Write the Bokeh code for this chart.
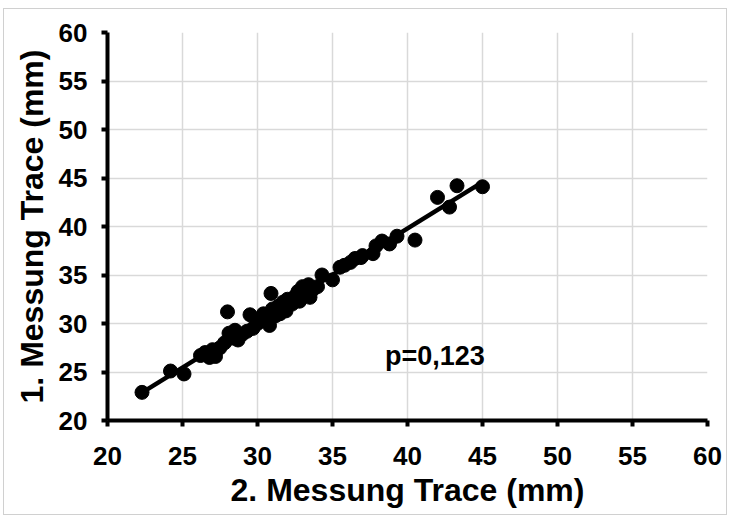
import numpy as np
from bokeh.plotting import figure
from bokeh.models import ColumnDataSource
from bokeh.core.properties import value
from bokeh.embed import file_html
from bokeh.resources import INLINE

# Paired measurements (mm): second measurement (x) vs first measurement (y)
messung_2 = [22.3, 24.2, 25.1, 26.2, 26.5, 26.8, 27.0, 27.2, 27.5, 27.8,
             28.0, 28.1, 28.3, 28.5, 28.7, 29.0, 29.3, 29.5, 29.7, 30.0,
             30.2, 30.4, 30.6, 30.8, 30.9, 31.0, 31.2, 31.4, 31.5, 31.7,
             31.9, 32.0, 32.3, 32.5, 32.7, 32.8, 33.0, 33.2, 33.4, 33.5,
             33.7, 34.0, 34.3, 35.0, 35.5, 35.8, 36.2, 36.5, 36.9, 37.0,
             37.7, 37.9, 38.3, 38.8, 39.3, 40.5, 42.0, 42.8, 43.3, 45.0]
messung_1 = [22.9, 25.1, 24.8, 26.7, 27.0, 26.5, 27.3, 26.6, 27.5, 28.0,
             31.2, 29.0, 28.5, 29.3, 28.3, 28.9, 29.2, 30.9, 29.5, 30.0,
             30.5, 31.0, 30.3, 29.8, 33.1, 31.5, 30.8, 31.8, 31.0, 32.2,
             31.3, 32.5, 32.0, 32.8, 33.3, 32.3, 33.8, 33.0, 34.0, 32.7,
             33.5, 33.8, 35.0, 34.5, 35.8, 36.0, 36.3, 36.7, 36.8, 37.0,
             37.2, 38.0, 38.5, 38.2, 39.0, 38.6, 43.0, 42.0, 44.2, 44.1]
axis_ticks = [20, 25, 30, 35, 40, 45, 50, 55, 60]
p_label = "p=0,123"

FONT = "Liberation Sans"

p = figure(width=724, height=507, x_range=(20, 60), y_range=(20, 60),
           output_backend="svg", toolbar_location=None,
           min_border_left=103, min_border_right=21,
           min_border_top=23, min_border_bottom=96)
p.styles = {"margin-left": "3px", "margin-top": "8px",
            "border": "1px solid #d0d0d0"}
p.outline_line_color = None
p.background_fill_color = "white"

# grid
for g in (p.xgrid, p.ygrid):
    g.ticker = axis_ticks
    g.grid_line_color = "#d9d9d9"
    g.grid_line_width = 1.5

# axes
for ax in (p.xaxis, p.yaxis):
    ax.ticker = axis_ticks
    ax.axis_line_width = 4
    ax.axis_line_color = "#000000"
    ax.major_tick_line_width = 4
    ax.major_tick_line_color = "#000000"
    ax.major_tick_out = 6
    ax.major_tick_in = 0
    ax.minor_tick_line_color = None
    ax.major_label_text_font = FONT
    ax.major_label_text_font_style = "bold"
    ax.major_label_text_font_size = "26px"
    ax.major_label_text_color = "black"
    ax.axis_label_text_font = FONT
    ax.axis_label_text_font_style = "bold"
    ax.axis_label_text_font_size = "32px"
    ax.axis_label_text_color = "black"

p.xaxis.axis_label = "2. Messung Trace (mm)"
p.yaxis.axis_label = "1. Messung Trace (mm)"
p.xaxis.major_label_standoff = 20
p.xaxis.axis_label_standoff = 4
p.yaxis.major_label_standoff = 14
p.yaxis.axis_label_standoff = 6

# linear trend line fitted to the data
xs = np.array(messung_2)
ys = np.array(messung_1)
slope, intercept = np.polyfit(xs, ys, 1)
line_x = [xs.min(), xs.max()]
line_y = [slope * v + intercept for v in line_x]

src = ColumnDataSource(dict(x=messung_2, y=messung_1))
p.scatter("x", "y", source=src, size=14, fill_color="black", line_color="black")
p.line(line_x, line_y, line_width=4.5, line_color="black")

p.text(x=[38.5], y=[26.7], text=[p_label], text_font=value(FONT),
       text_font_style="bold", text_font_size="27px", text_color="black",
       text_baseline="middle", text_align="left")

open("out.html", "w").write(file_html(p, INLINE))
